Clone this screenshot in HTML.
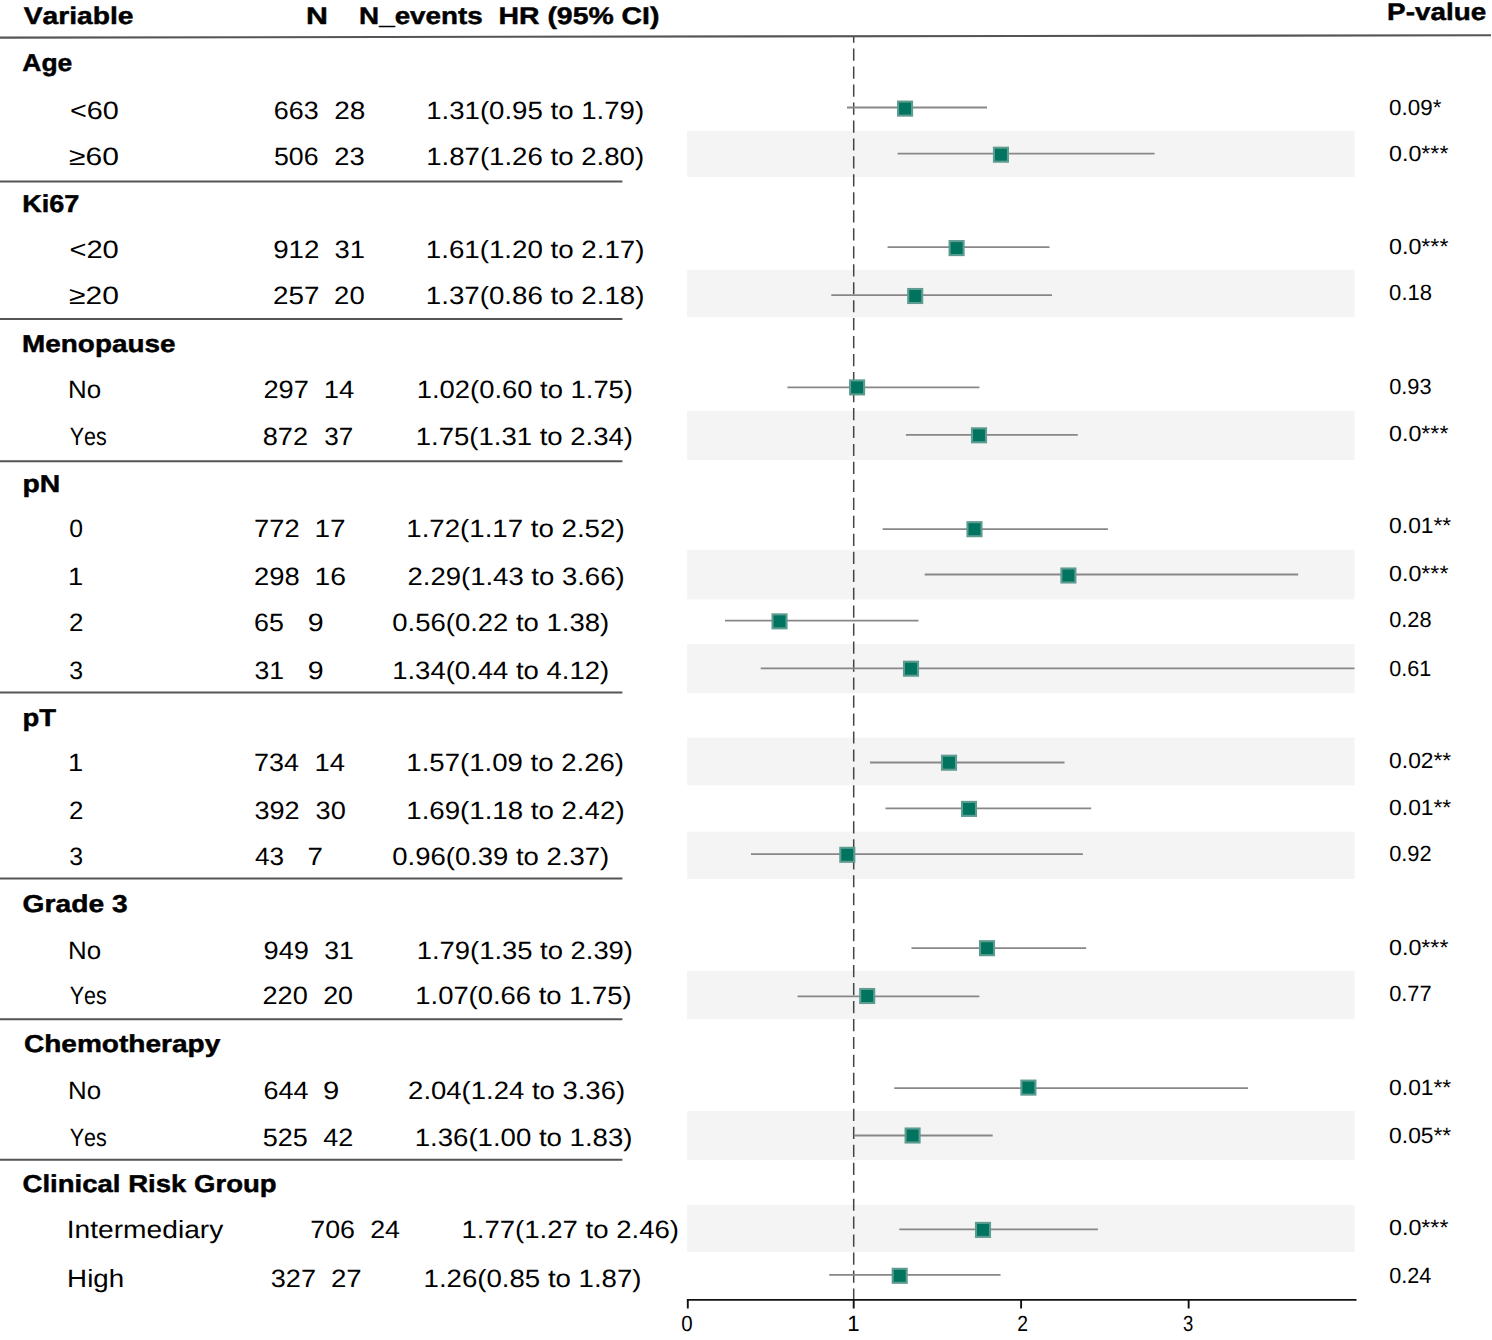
<!DOCTYPE html>
<html><head><meta charset="utf-8"><title>Forest plot</title>
<style>html,body{margin:0;padding:0;background:#fff;}svg{display:block;}</style>
</head><body>
<svg width="1492" height="1340" viewBox="0 0 1492 1340">
<rect x="0" y="0" width="1492" height="1340" fill="#fff"/>
<rect x="687.1" y="130.6" width="667.4" height="46.4" fill="#f4f4f4"/>
<rect x="687.1" y="270.1" width="667.4" height="47.3" fill="#f4f4f4"/>
<rect x="687.1" y="410.6" width="667.4" height="49.5" fill="#f4f4f4"/>
<rect x="687.1" y="550.1" width="667.4" height="49.3" fill="#f4f4f4"/>
<rect x="687.1" y="644.2" width="667.4" height="49.0" fill="#f4f4f4"/>
<rect x="687.1" y="737.6" width="667.4" height="47.7" fill="#f4f4f4"/>
<rect x="687.1" y="831.6" width="667.4" height="47.4" fill="#f4f4f4"/>
<rect x="687.1" y="970.7" width="667.4" height="48.6" fill="#f4f4f4"/>
<rect x="687.1" y="1111.0" width="667.4" height="49.2" fill="#f4f4f4"/>
<rect x="687.1" y="1205.0" width="667.4" height="47.0" fill="#f4f4f4"/>
<line x1="0" y1="37.6" x2="1491" y2="35.3" stroke="#555" stroke-width="2.1"/>
<line x1="0" y1="181.4" x2="622.4" y2="181.4" stroke="#555" stroke-width="2"/>
<line x1="0" y1="318.9" x2="622.4" y2="318.9" stroke="#555" stroke-width="2"/>
<line x1="0" y1="461.2" x2="622.4" y2="461.2" stroke="#555" stroke-width="2"/>
<line x1="0" y1="692.5" x2="622.4" y2="692.5" stroke="#555" stroke-width="2"/>
<line x1="0" y1="878.6" x2="622.4" y2="878.6" stroke="#555" stroke-width="2"/>
<line x1="0" y1="1019.2" x2="622.4" y2="1019.2" stroke="#555" stroke-width="2"/>
<line x1="0" y1="1159.8" x2="622.4" y2="1159.8" stroke="#555" stroke-width="2"/>
<line x1="853.7" y1="30.58" x2="853.7" y2="1300" stroke="#444" stroke-width="1.5" stroke-dasharray="12.2 5.77" clip-path="url(#cp)"/>
<clipPath id="cp"><rect x="0" y="37" width="1492" height="1263"/></clipPath>
<line x1="847.0" y1="107.5" x2="987.0" y2="107.5" stroke="#878787" stroke-width="1.8"/>
<line x1="897.6" y1="153.7" x2="1154.6" y2="153.7" stroke="#878787" stroke-width="1.8"/>
<line x1="887.6" y1="247.1" x2="1049.5" y2="247.1" stroke="#878787" stroke-width="1.8"/>
<line x1="831.3" y1="295.2" x2="1052.0" y2="295.2" stroke="#878787" stroke-width="1.8"/>
<line x1="787.4" y1="387.4" x2="979.4" y2="387.4" stroke="#878787" stroke-width="1.8"/>
<line x1="905.9" y1="434.8" x2="1077.8" y2="434.8" stroke="#878787" stroke-width="1.8"/>
<line x1="882.6" y1="529.1" x2="1107.9" y2="529.1" stroke="#878787" stroke-width="1.8"/>
<line x1="924.7" y1="574.5" x2="1298.2" y2="574.5" stroke="#878787" stroke-width="1.8"/>
<line x1="725.0" y1="620.6" x2="918.5" y2="620.6" stroke="#878787" stroke-width="1.8"/>
<line x1="760.7" y1="668.3" x2="1354.5" y2="668.3" stroke="#878787" stroke-width="1.8"/>
<line x1="870.0" y1="762.5" x2="1064.5" y2="762.5" stroke="#878787" stroke-width="1.8"/>
<line x1="885.5" y1="808.3" x2="1091.2" y2="808.3" stroke="#878787" stroke-width="1.8"/>
<line x1="751.0" y1="854.2" x2="1082.9" y2="854.2" stroke="#878787" stroke-width="1.8"/>
<line x1="911.5" y1="948.1" x2="1086.2" y2="948.1" stroke="#878787" stroke-width="1.8"/>
<line x1="797.5" y1="996.3" x2="979.4" y2="996.3" stroke="#878787" stroke-width="1.8"/>
<line x1="894.3" y1="1088.1" x2="1248.1" y2="1088.1" stroke="#878787" stroke-width="1.8"/>
<line x1="854.2" y1="1135.5" x2="992.7" y2="1135.5" stroke="#878787" stroke-width="1.8"/>
<line x1="899.3" y1="1229.4" x2="1097.9" y2="1229.4" stroke="#878787" stroke-width="1.8"/>
<line x1="829.2" y1="1274.9" x2="1000.5" y2="1274.9" stroke="#878787" stroke-width="1.8"/>
<rect x="898.05" y="101.60" width="14" height="14" fill="#00745e" stroke="#5e9c91" stroke-width="2.1"/>
<rect x="993.95" y="147.70" width="14" height="14" fill="#00745e" stroke="#5e9c91" stroke-width="2.1"/>
<rect x="949.60" y="241.10" width="14" height="14" fill="#00745e" stroke="#5e9c91" stroke-width="2.1"/>
<rect x="908.20" y="289.00" width="14" height="14" fill="#00745e" stroke="#5e9c91" stroke-width="2.1"/>
<rect x="850.10" y="380.40" width="14" height="14" fill="#00745e" stroke="#5e9c91" stroke-width="2.1"/>
<rect x="972.00" y="428.30" width="14" height="14" fill="#00745e" stroke="#5e9c91" stroke-width="2.1"/>
<rect x="967.50" y="522.20" width="14" height="14" fill="#00745e" stroke="#5e9c91" stroke-width="2.1"/>
<rect x="1061.40" y="568.50" width="14" height="14" fill="#00745e" stroke="#5e9c91" stroke-width="2.1"/>
<rect x="772.55" y="614.35" width="14" height="14" fill="#00745e" stroke="#5e9c91" stroke-width="2.1"/>
<rect x="904.00" y="661.70" width="14" height="14" fill="#00745e" stroke="#5e9c91" stroke-width="2.1"/>
<rect x="942.00" y="755.70" width="14" height="14" fill="#00745e" stroke="#5e9c91" stroke-width="2.1"/>
<rect x="962.00" y="801.90" width="14" height="14" fill="#00745e" stroke="#5e9c91" stroke-width="2.1"/>
<rect x="840.30" y="847.80" width="14" height="14" fill="#00745e" stroke="#5e9c91" stroke-width="2.1"/>
<rect x="980.00" y="941.20" width="14" height="14" fill="#00745e" stroke="#5e9c91" stroke-width="2.1"/>
<rect x="860.20" y="989.00" width="14" height="14" fill="#00745e" stroke="#5e9c91" stroke-width="2.1"/>
<rect x="1021.40" y="1080.60" width="14" height="14" fill="#00745e" stroke="#5e9c91" stroke-width="2.1"/>
<rect x="905.60" y="1128.50" width="14" height="14" fill="#00745e" stroke="#5e9c91" stroke-width="2.1"/>
<rect x="976.00" y="1222.90" width="14" height="14" fill="#00745e" stroke="#5e9c91" stroke-width="2.1"/>
<rect x="892.70" y="1268.80" width="14" height="14" fill="#00745e" stroke="#5e9c91" stroke-width="2.1"/>
<line x1="686.85" y1="1299.9" x2="1356.5" y2="1299.9" stroke="#111" stroke-width="1.9"/>
<line x1="687.80" y1="1300" x2="687.80" y2="1308.5" stroke="#111" stroke-width="1.9"/>
<line x1="853.70" y1="1300" x2="853.70" y2="1308.5" stroke="#111" stroke-width="1.9"/>
<line x1="1021.10" y1="1300" x2="1021.10" y2="1308.5" stroke="#111" stroke-width="1.9"/>
<line x1="1188.65" y1="1300" x2="1188.65" y2="1308.5" stroke="#111" stroke-width="1.9"/>
<g font-family="Liberation Sans, sans-serif" fill="#000" style="font-kerning:none;text-rendering:geometricPrecision">
<text x="23.71" y="24.20" font-size="24.1" font-weight="bold" stroke="#000" stroke-width="0.45" textLength="109.86" lengthAdjust="spacingAndGlyphs">Variable</text>
<text x="306.07" y="24.20" font-size="24.1" font-weight="bold" stroke="#000" stroke-width="0.45" textLength="21.87" lengthAdjust="spacingAndGlyphs">N</text>
<text x="359.14" y="24.20" font-size="24.1" font-weight="bold" stroke="#000" stroke-width="0.45" textLength="123.60" lengthAdjust="spacingAndGlyphs">N_events</text>
<text x="498.50" y="24.20" font-size="24.1" font-weight="bold" stroke="#000" stroke-width="0.45" textLength="160.91" lengthAdjust="spacingAndGlyphs">HR (95% CI)</text>
<text x="1387.14" y="20.40" font-size="24.1" font-weight="bold" stroke="#000" stroke-width="0.45" textLength="99.12" lengthAdjust="spacingAndGlyphs">P-value</text>
<text x="22.34" y="70.50" font-size="24.4" font-weight="bold" stroke="#000" stroke-width="0.45" textLength="49.96" lengthAdjust="spacingAndGlyphs">Age</text>
<text x="69.98" y="118.60" font-size="25.0" textLength="48.84" lengthAdjust="spacingAndGlyphs">&lt;60</text>
<text x="273.74" y="118.60" font-size="25.0" textLength="44.85" lengthAdjust="spacingAndGlyphs">663</text>
<text x="334.19" y="118.60" font-size="25.0" textLength="31.12" lengthAdjust="spacingAndGlyphs">28</text>
<text x="426.20" y="118.60" font-size="25.0" textLength="217.91" lengthAdjust="spacingAndGlyphs">1.31(0.95 to 1.79)</text>
<text x="1389.13" y="114.80" font-size="22.0" textLength="52.22" lengthAdjust="spacingAndGlyphs">0.09*</text>
<text x="69.05" y="164.60" font-size="25.0" textLength="49.82" lengthAdjust="spacingAndGlyphs">≥60</text>
<text x="274.03" y="164.60" font-size="25.0" textLength="44.54" lengthAdjust="spacingAndGlyphs">506</text>
<text x="334.22" y="164.60" font-size="25.0" textLength="30.48" lengthAdjust="spacingAndGlyphs">23</text>
<text x="426.20" y="164.60" font-size="25.0" textLength="217.91" lengthAdjust="spacingAndGlyphs">1.87(1.26 to 2.80)</text>
<text x="1389.09" y="160.80" font-size="22.0" textLength="59.37" lengthAdjust="spacingAndGlyphs">0.0***</text>
<text x="22.19" y="212.10" font-size="24.4" font-weight="bold" stroke="#000" stroke-width="0.45" textLength="57.20" lengthAdjust="spacingAndGlyphs">Ki67</text>
<text x="69.46" y="257.60" font-size="25.0" textLength="49.37" lengthAdjust="spacingAndGlyphs">&lt;20</text>
<text x="273.20" y="257.60" font-size="25.0" textLength="46.30" lengthAdjust="spacingAndGlyphs">912</text>
<text x="334.46" y="257.60" font-size="25.0" textLength="30.48" lengthAdjust="spacingAndGlyphs">31</text>
<text x="425.79" y="257.60" font-size="25.0" textLength="218.73" lengthAdjust="spacingAndGlyphs">1.61(1.20 to 2.17)</text>
<text x="1389.09" y="253.80" font-size="22.0" textLength="59.37" lengthAdjust="spacingAndGlyphs">0.0***</text>
<text x="69.05" y="303.50" font-size="25.0" textLength="49.82" lengthAdjust="spacingAndGlyphs">≥20</text>
<text x="273.10" y="303.50" font-size="25.0" textLength="46.40" lengthAdjust="spacingAndGlyphs">257</text>
<text x="334.12" y="303.50" font-size="25.0" textLength="30.55" lengthAdjust="spacingAndGlyphs">20</text>
<text x="425.79" y="303.50" font-size="25.0" textLength="218.73" lengthAdjust="spacingAndGlyphs">1.37(0.86 to 2.18)</text>
<text x="1389.14" y="299.70" font-size="22.0" textLength="42.92" lengthAdjust="spacingAndGlyphs">0.18</text>
<text x="22.14" y="351.80" font-size="24.4" font-weight="bold" stroke="#000" stroke-width="0.45" textLength="153.32" lengthAdjust="spacingAndGlyphs">Menopause</text>
<text x="68.08" y="398.20" font-size="25.0" textLength="33.11" lengthAdjust="spacingAndGlyphs">No</text>
<text x="263.43" y="398.20" font-size="25.0" textLength="45.55" lengthAdjust="spacingAndGlyphs">297</text>
<text x="323.81" y="398.20" font-size="25.0" textLength="30.49" lengthAdjust="spacingAndGlyphs">14</text>
<text x="416.71" y="398.20" font-size="25.0" textLength="216.29" lengthAdjust="spacingAndGlyphs">1.02(0.60 to 1.75)</text>
<text x="1389.15" y="394.40" font-size="22.0" textLength="42.41" lengthAdjust="spacingAndGlyphs">0.93</text>
<text x="69.73" y="445.00" font-size="25.0" textLength="37.05" lengthAdjust="spacingAndGlyphs">Yes</text>
<text x="262.72" y="445.00" font-size="25.0" textLength="45.35" lengthAdjust="spacingAndGlyphs">872</text>
<text x="324.31" y="445.00" font-size="25.0" textLength="29.00" lengthAdjust="spacingAndGlyphs">37</text>
<text x="415.80" y="445.00" font-size="25.0" textLength="217.20" lengthAdjust="spacingAndGlyphs">1.75(1.31 to 2.34)</text>
<text x="1389.09" y="441.20" font-size="22.0" textLength="59.37" lengthAdjust="spacingAndGlyphs">0.0***</text>
<text x="22.43" y="491.70" font-size="24.4" font-weight="bold" stroke="#000" stroke-width="0.45" textLength="37.78" lengthAdjust="spacingAndGlyphs">pN</text>
<text x="69.24" y="537.10" font-size="25.0" textLength="13.73" lengthAdjust="spacingAndGlyphs">0</text>
<text x="254.10" y="537.10" font-size="25.0" textLength="45.57" lengthAdjust="spacingAndGlyphs">772</text>
<text x="314.47" y="537.10" font-size="25.0" textLength="31.14" lengthAdjust="spacingAndGlyphs">17</text>
<text x="406.29" y="537.10" font-size="25.0" textLength="218.32" lengthAdjust="spacingAndGlyphs">1.72(1.17 to 2.52)</text>
<text x="1389.11" y="533.30" font-size="22.0" textLength="62.15" lengthAdjust="spacingAndGlyphs">0.01**</text>
<text x="68.12" y="585.20" font-size="25.0" textLength="15.22" lengthAdjust="spacingAndGlyphs">1</text>
<text x="254.12" y="585.20" font-size="25.0" textLength="45.67" lengthAdjust="spacingAndGlyphs">298</text>
<text x="314.44" y="585.20" font-size="25.0" textLength="31.50" lengthAdjust="spacingAndGlyphs">16</text>
<text x="407.52" y="585.20" font-size="25.0" textLength="217.09" lengthAdjust="spacingAndGlyphs">2.29(1.43 to 3.66)</text>
<text x="1389.09" y="581.40" font-size="22.0" textLength="59.37" lengthAdjust="spacingAndGlyphs">0.0***</text>
<text x="68.90" y="631.20" font-size="25.0" textLength="14.41" lengthAdjust="spacingAndGlyphs">2</text>
<text x="254.14" y="631.20" font-size="25.0" textLength="29.78" lengthAdjust="spacingAndGlyphs">65</text>
<text x="307.66" y="631.20" font-size="25.0" textLength="15.89" lengthAdjust="spacingAndGlyphs">9</text>
<text x="392.33" y="631.20" font-size="25.0" textLength="216.78" lengthAdjust="spacingAndGlyphs">0.56(0.22 to 1.38)</text>
<text x="1389.15" y="627.40" font-size="22.0" textLength="42.40" lengthAdjust="spacingAndGlyphs">0.28</text>
<text x="69.25" y="679.40" font-size="25.0" textLength="13.84" lengthAdjust="spacingAndGlyphs">3</text>
<text x="254.49" y="679.40" font-size="25.0" textLength="29.61" lengthAdjust="spacingAndGlyphs">31</text>
<text x="307.66" y="679.40" font-size="25.0" textLength="15.89" lengthAdjust="spacingAndGlyphs">9</text>
<text x="392.21" y="679.40" font-size="25.0" textLength="216.90" lengthAdjust="spacingAndGlyphs">1.34(0.44 to 4.12)</text>
<text x="1389.16" y="675.60" font-size="22.0" textLength="42.00" lengthAdjust="spacingAndGlyphs">0.61</text>
<text x="22.49" y="725.70" font-size="24.4" font-weight="bold" stroke="#000" stroke-width="0.45" textLength="33.61" lengthAdjust="spacingAndGlyphs">pT</text>
<text x="68.12" y="771.30" font-size="25.0" textLength="15.22" lengthAdjust="spacingAndGlyphs">1</text>
<text x="254.12" y="771.30" font-size="25.0" textLength="44.97" lengthAdjust="spacingAndGlyphs">734</text>
<text x="314.51" y="771.30" font-size="25.0" textLength="30.49" lengthAdjust="spacingAndGlyphs">14</text>
<text x="406.30" y="771.30" font-size="25.0" textLength="217.71" lengthAdjust="spacingAndGlyphs">1.57(1.09 to 2.26)</text>
<text x="1389.11" y="767.50" font-size="22.0" textLength="62.15" lengthAdjust="spacingAndGlyphs">0.02**</text>
<text x="68.90" y="818.50" font-size="25.0" textLength="14.41" lengthAdjust="spacingAndGlyphs">2</text>
<text x="254.47" y="818.50" font-size="25.0" textLength="45.19" lengthAdjust="spacingAndGlyphs">392</text>
<text x="315.57" y="818.50" font-size="25.0" textLength="30.19" lengthAdjust="spacingAndGlyphs">30</text>
<text x="406.29" y="818.50" font-size="25.0" textLength="218.32" lengthAdjust="spacingAndGlyphs">1.69(1.18 to 2.42)</text>
<text x="1389.11" y="814.70" font-size="22.0" textLength="62.15" lengthAdjust="spacingAndGlyphs">0.01**</text>
<text x="69.25" y="864.60" font-size="25.0" textLength="13.84" lengthAdjust="spacingAndGlyphs">3</text>
<text x="254.90" y="864.60" font-size="25.0" textLength="29.05" lengthAdjust="spacingAndGlyphs">43</text>
<text x="307.58" y="864.60" font-size="25.0" textLength="15.42" lengthAdjust="spacingAndGlyphs">7</text>
<text x="392.33" y="864.60" font-size="25.0" textLength="216.78" lengthAdjust="spacingAndGlyphs">0.96(0.39 to 2.37)</text>
<text x="1389.15" y="860.80" font-size="22.0" textLength="42.55" lengthAdjust="spacingAndGlyphs">0.92</text>
<text x="22.64" y="912.20" font-size="24.4" font-weight="bold" stroke="#000" stroke-width="0.45" textLength="105.08" lengthAdjust="spacingAndGlyphs">Grade 3</text>
<text x="68.08" y="958.50" font-size="25.0" textLength="33.11" lengthAdjust="spacingAndGlyphs">No</text>
<text x="263.53" y="958.50" font-size="25.0" textLength="45.36" lengthAdjust="spacingAndGlyphs">949</text>
<text x="324.29" y="958.50" font-size="25.0" textLength="29.61" lengthAdjust="spacingAndGlyphs">31</text>
<text x="416.71" y="958.50" font-size="25.0" textLength="216.29" lengthAdjust="spacingAndGlyphs">1.79(1.35 to 2.39)</text>
<text x="1389.09" y="954.70" font-size="22.0" textLength="59.37" lengthAdjust="spacingAndGlyphs">0.0***</text>
<text x="69.73" y="1004.40" font-size="25.0" textLength="37.05" lengthAdjust="spacingAndGlyphs">Yes</text>
<text x="262.54" y="1004.40" font-size="25.0" textLength="45.22" lengthAdjust="spacingAndGlyphs">220</text>
<text x="323.15" y="1004.40" font-size="25.0" textLength="29.90" lengthAdjust="spacingAndGlyphs">20</text>
<text x="415.31" y="1004.40" font-size="25.0" textLength="216.29" lengthAdjust="spacingAndGlyphs">1.07(0.66 to 1.75)</text>
<text x="1389.15" y="1000.60" font-size="22.0" textLength="42.55" lengthAdjust="spacingAndGlyphs">0.77</text>
<text x="23.95" y="1052.00" font-size="24.4" font-weight="bold" stroke="#000" stroke-width="0.45" textLength="196.40" lengthAdjust="spacingAndGlyphs">Chemotherapy</text>
<text x="68.08" y="1098.70" font-size="25.0" textLength="33.11" lengthAdjust="spacingAndGlyphs">No</text>
<text x="263.43" y="1098.70" font-size="25.0" textLength="44.96" lengthAdjust="spacingAndGlyphs">644</text>
<text x="323.13" y="1098.70" font-size="25.0" textLength="16.25" lengthAdjust="spacingAndGlyphs">9</text>
<text x="408.12" y="1098.70" font-size="25.0" textLength="216.99" lengthAdjust="spacingAndGlyphs">2.04(1.24 to 3.36)</text>
<text x="1389.11" y="1094.90" font-size="22.0" textLength="62.15" lengthAdjust="spacingAndGlyphs">0.01**</text>
<text x="69.73" y="1146.30" font-size="25.0" textLength="37.05" lengthAdjust="spacingAndGlyphs">Yes</text>
<text x="262.82" y="1146.30" font-size="25.0" textLength="45.01" lengthAdjust="spacingAndGlyphs">525</text>
<text x="323.28" y="1146.30" font-size="25.0" textLength="30.08" lengthAdjust="spacingAndGlyphs">42</text>
<text x="414.70" y="1146.30" font-size="25.0" textLength="217.81" lengthAdjust="spacingAndGlyphs">1.36(1.00 to 1.83)</text>
<text x="1389.11" y="1142.50" font-size="22.0" textLength="62.15" lengthAdjust="spacingAndGlyphs">0.05**</text>
<text x="22.57" y="1192.30" font-size="24.4" font-weight="bold" stroke="#000" stroke-width="0.45" textLength="254.06" lengthAdjust="spacingAndGlyphs">Clinical Risk Group</text>
<text x="66.80" y="1238.30" font-size="25.0" textLength="156.45" lengthAdjust="spacingAndGlyphs">Intermediary</text>
<text x="310.22" y="1238.30" font-size="25.0" textLength="44.75" lengthAdjust="spacingAndGlyphs">706</text>
<text x="370.15" y="1238.30" font-size="25.0" textLength="29.83" lengthAdjust="spacingAndGlyphs">24</text>
<text x="461.40" y="1238.30" font-size="25.0" textLength="217.61" lengthAdjust="spacingAndGlyphs">1.77(1.27 to 2.46)</text>
<text x="1389.09" y="1234.50" font-size="22.0" textLength="59.37" lengthAdjust="spacingAndGlyphs">0.0***</text>
<text x="67.13" y="1286.70" font-size="25.0" textLength="56.97" lengthAdjust="spacingAndGlyphs">High</text>
<text x="270.77" y="1286.70" font-size="25.0" textLength="45.19" lengthAdjust="spacingAndGlyphs">327</text>
<text x="330.91" y="1286.70" font-size="25.0" textLength="30.78" lengthAdjust="spacingAndGlyphs">27</text>
<text x="423.60" y="1286.70" font-size="25.0" textLength="217.91" lengthAdjust="spacingAndGlyphs">1.26(0.85 to 1.87)</text>
<text x="1389.16" y="1282.90" font-size="22.0" textLength="42.08" lengthAdjust="spacingAndGlyphs">0.24</text>
<text x="681.30" y="1330.50" font-size="22.0" textLength="11.40" lengthAdjust="spacingAndGlyphs">0</text>
<text x="847.30" y="1330.50" font-size="22.0" textLength="12.38" lengthAdjust="spacingAndGlyphs">1</text>
<text x="1017.13" y="1330.50" font-size="22.0" textLength="10.74" lengthAdjust="spacingAndGlyphs">2</text>
<text x="1182.89" y="1330.50" font-size="22.0" textLength="10.32" lengthAdjust="spacingAndGlyphs">3</text>
</g>
</svg>
</body></html>
